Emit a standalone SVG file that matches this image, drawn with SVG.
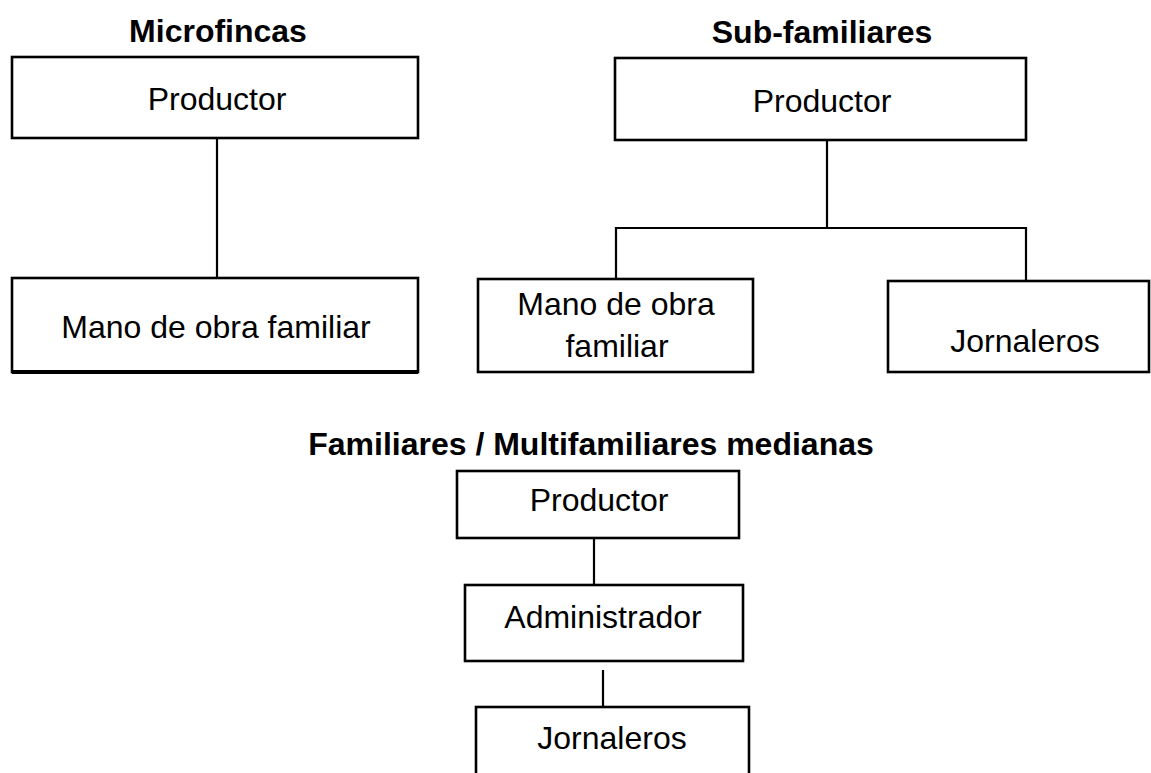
<svg xmlns="http://www.w3.org/2000/svg" width="1151" height="773" viewBox="0 0 1151 773">
<style>
.box{fill:#fff;stroke:#000;stroke-width:2.6}
.ln{stroke:#000;stroke-width:2.2;fill:none}
.t{font-family:"Liberation Sans",Arial,sans-serif;font-size:32px;fill:#000;text-anchor:middle}
.h{font-family:"Liberation Sans",Arial,sans-serif;font-size:32px;font-weight:bold;fill:#000;text-anchor:middle}
</style>
<rect width="1151" height="773" fill="#fff"/>
<g id="titles">
<text class="h" x="218" y="42">Microfincas</text>
<text class="h" x="822" y="43">Sub-familiares</text>
<text class="h" x="591" y="455">Familiares / Multifamiliares medianas</text>
</g>
<g id="connectors">
<line class="ln" x1="217" y1="138" x2="217" y2="278"/>
<line class="ln" x1="827" y1="140" x2="827" y2="228"/>
<polyline class="ln" points="616,279 616,228 1026,228 1026,281"/>
<line class="ln" x1="594" y1="538" x2="594" y2="585"/>
<line class="ln" x1="603" y1="670" x2="603" y2="707"/>
</g>
<g id="m-productor"><rect class="box" x="12" y="57" width="406" height="81"/><text class="t" x="217" y="110">Productor</text></g>
<g id="m-mano"><rect class="box" x="12" y="278" width="406" height="94"/><line x1="12" y1="372" x2="418" y2="372" stroke="#000" stroke-width="4"/><text class="t" x="216" y="338">Mano de obra familiar</text></g>
<g id="s-productor"><rect class="box" x="615" y="58" width="411" height="82"/><text class="t" x="822" y="112">Productor</text></g>
<g id="s-mano"><rect class="box" x="478" y="279" width="275" height="93"/><text class="t" x="616" y="315">Mano de obra</text><text class="t" x="617" y="357">familiar</text></g>
<g id="s-jornaleros"><rect class="box" x="888" y="281" width="261" height="91"/><text class="t" x="1025" y="352">Jornaleros</text></g>
<g id="f-productor"><rect class="box" x="457" y="471" width="282" height="67"/><text class="t" x="599" y="511">Productor</text></g>
<g id="f-admin"><rect class="box" x="465" y="585" width="278" height="76"/><text class="t" x="603" y="628">Administrador</text></g>
<g id="f-jornaleros"><rect class="box" x="476" y="707" width="273" height="80"/><text class="t" x="612" y="749">Jornaleros</text></g>
</svg>
